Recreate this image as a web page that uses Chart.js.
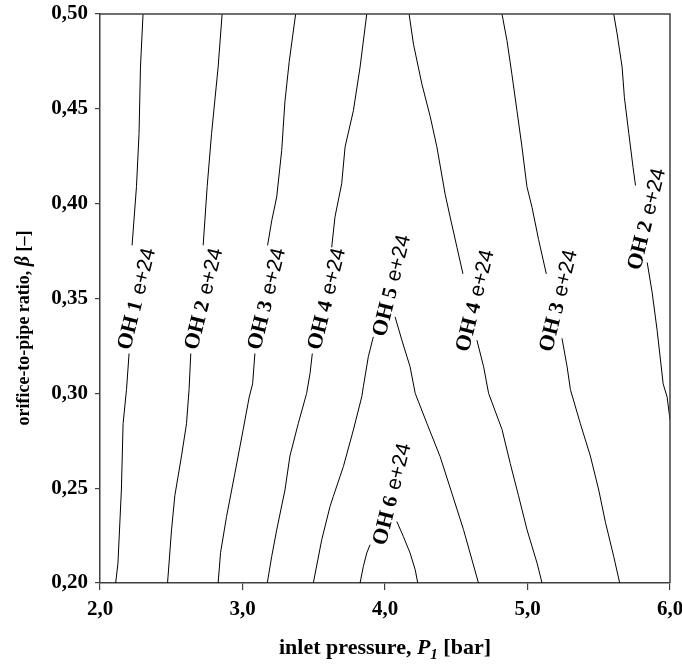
<!DOCTYPE html>
<html>
<head>
<meta charset="utf-8">
<script src="https://cdn.jsdelivr.net/npm/chart.js@4"></script>
<style>
  html, body { margin: 0; padding: 0; background: #fff; }
  canvas { display: block; }
</style>
</head>
<body>
<canvas id="ohChart" width="682" height="664"></canvas>
<script>
// contour lines: inlet pressure P1 [bar] / beta [-]
// null = break where the label sits
const oh1P = [2.302, 2.284, 2.274, 2.256, 2.225, null, 2.204, 2.186, 2.162, 2.150, 2.126, 2.110];
const oh1Beta = [0.500, 0.472, 0.437, 0.409, 0.378, null, 0.321, 0.302, 0.284, 0.249, 0.2105, 0.200];

const oh2aP = [2.857, 2.829, 2.783, 2.752, 2.724, null, 2.637, 2.625, 2.607, 2.572, 2.525, 2.502, 2.474];
const oh2aBeta = [0.500, 0.472, 0.437, 0.409, 0.378, null, 0.321, 0.302, 0.284, 0.267, 0.246, 0.228, 0.200];

const oh3aP = [3.373, 3.328, 3.298, 3.275, 3.240, 3.205, 3.176, null, 3.087, 3.071, 3.047, 3.005, 2.947, 2.888, 2.846, 2.829];
const oh3aBeta = [0.500, 0.475, 0.454, 0.428, 0.4035, 0.391, 0.378, null, 0.321, 0.305, 0.298, 0.281, 0.258, 0.235, 0.216, 0.200];

const oh4aP = [3.872, 3.825, 3.778, 3.720, 3.696, 3.649, 3.626, null, 3.490, 3.474, 3.450, 3.391, 3.333, 3.298, 3.240, 3.205, 3.174];
const oh4aBeta = [0.500, 0.472, 0.449, 0.430, 0.4105, 0.393, 0.377, null, 0.321, 0.3105, 0.300, 0.284, 0.267, 0.249, 0.228, 0.214, 0.200];

const oh5P = [3.497, 3.556, 3.614, 3.637, 3.708, 3.778, 3.837, 3.848, 3.883, 3.918, null, 4.071, 4.118, 4.176, 4.212, 4.294, 4.387, 4.469, 4.551, 4.656];
const oh5Beta = [0.200, 0.2228, 0.2403, 0.2456, 0.2614, 0.2807, 0.2982, 0.3035, 0.3193, 0.3298, null, 0.3403, 0.3281, 0.314, 0.300, 0.2842, 0.2666, 0.2474, 0.2281, 0.200];

const oh6P = [3.825, 3.848, 3.872, 3.895, null, 4.083, 4.129, 4.176, 4.212, 4.230];
const oh6Beta = [0.200, 0.2087, 0.2158, 0.2202, null, 0.2324, 0.2245, 0.2158, 0.207, 0.200];

const oh4bP = [4.169, 4.200, 4.259, 4.317, 4.364, 4.422, 4.457, 4.505, 4.547, null, 4.645, 4.692, 4.727, 4.821, 4.879, 4.937, 4.997, 5.067, 5.102];
const oh4bBeta = [0.500, 0.484, 0.463, 0.446, 0.430, 0.405, 0.393, 0.377, 0.363, null, 0.328, 0.314, 0.300, 0.281, 0.263, 0.246, 0.228, 0.2105, 0.200];

const oh3bP = [4.821, 4.856, 4.891, 4.926, 4.961, 4.996, 5.032, 5.078, 5.132, null, 5.242, 5.278, 5.301, 5.371, 5.441, 5.500, 5.547, 5.605, 5.647];
const oh3bBeta = [0.500, 0.486, 0.468, 0.449, 0.430, 0.409, 0.398, 0.381, 0.363, null, 0.329, 0.314, 0.302, 0.284, 0.267, 0.249, 0.232, 0.214, 0.200];

const oh2bP = [5.605, 5.629, 5.664, 5.680, 5.711, 5.741, 5.758, null, 5.840, 5.875, 5.910, 5.952, 5.980, 6.000];
const oh2bBeta = [0.500, 0.4895, 0.472, 0.456, 0.437, 0.419, 0.4096, null, 0.369, 0.353, 0.333, 0.305, 0.298, 0.286];

// contour labels "OH n e+24"
const labelLevels = ['1', '2', '3', '4', '5', '6', '4', '3', '2'];
const labelP = [2.249, 2.720, 3.162, 3.583, 4.039, 4.041, 4.624, 5.209, 5.828];
const labelBeta = [0.350, 0.350, 0.350, 0.350, 0.357, 0.247, 0.349, 0.349, 0.392];

const pressureRange = [2, 6];
const betaRange = [0.2, 0.5];

const SERIF = '"Liberation Serif", "Times New Roman", serif';
const SANS = '"Liberation Sans", Arial, sans-serif';

function toPoints(ps, bs) {
    return ps.map((p, i) => ({ x: p, y: bs[i] }));
}

function contour(ps, bs) {
    return {
        data: toPoints(ps, bs),
        showLine: true,
        borderColor: '#000',
        borderWidth: 1,
        pointRadius: 0,
        tension: 0,
        spanGaps: false
    };
}

// box round the plot area
const frame = {
    id: 'frame',
    afterDraw(chart) {
        const { ctx, chartArea: a } = chart;
        ctx.save();
        ctx.strokeStyle = '#404040';
        ctx.lineWidth = 1.5;
        ctx.beginPath();
        ctx.moveTo(a.left, a.top);
        ctx.lineTo(a.right, a.top);
        ctx.lineTo(a.right, a.bottom);
        ctx.stroke();
        ctx.restore();
    }
};

// rotated contour labels
const contourLabels = {
    id: 'contourLabels',
    afterDatasetsDraw(chart) {
        const { ctx, scales } = chart;
        const fOH = 'bold 22px ' + SERIF;
        const fNum = 'bold 21px ' + SERIF;
        const fExp = '21px ' + SANS;
        ctx.save();
        ctx.fillStyle = '#000';
        labelLevels.forEach((lvl, i) => {
            const px = scales.x.getPixelForValue(labelP[i]);
            const py = scales.y.getPixelForValue(labelBeta[i]);
            ctx.font = fOH; const w1 = ctx.measureText('OH').width;
            ctx.font = fNum; const w2 = ctx.measureText(lvl).width;
            ctx.font = fExp; const w3 = ctx.measureText('e+24').width;
            const g1 = 5, g2 = 7;
            const total = w1 + g1 + w2 + g2 + w3;
            ctx.save();
            ctx.translate(px, py);
            ctx.rotate(-76 * Math.PI / 180);
            ctx.textBaseline = 'alphabetic';
            ctx.textAlign = 'left';
            let x = -total / 2;
            const base = 7.5;
            ctx.font = fOH; ctx.fillText('OH', x, base); x += w1 + g1;
            ctx.font = fNum; ctx.fillText(lvl, x, base); x += w2 + g2;
            ctx.font = fExp; ctx.fillText('e+24', x, base);
            ctx.restore();
        });
        ctx.restore();
    }
};

// axis titles with mixed styles
const axisTitles = {
    id: 'axisTitles',
    afterDraw(chart) {
        const { ctx, chartArea: a } = chart;
        ctx.save();
        ctx.fillStyle = '#000';
        ctx.textBaseline = 'alphabetic';
        ctx.textAlign = 'left';

        // x title
        const xParts = [
            ['inlet pressure, ', 'bold 22px ' + SERIF, 0],
            ['P', 'italic bold 22px ' + SERIF, 0],
            ['1', 'italic bold 15px ' + SERIF, 5],
            [' [bar]', 'bold 22px ' + SERIF, 0]
        ];
        let tw = 0;
        xParts.forEach(p => { ctx.font = p[1]; p.push(ctx.measureText(p[0]).width); tw += p[3]; });
        let x = (a.left + a.right) / 2 - tw / 2;
        xParts.forEach(p => { ctx.font = p[1]; ctx.fillText(p[0], x, 654 + p[2]); x += p[3]; });

        // y title
        const yParts = [
            ['orifice-to-pipe ratio, ', 'bold 18px ' + SERIF],
            ['\u03b2', 'italic bold 20px ' + SERIF],
            [' [\u2013]', 'bold 18px ' + SERIF]
        ];
        tw = 0;
        yParts.forEach(p => { ctx.font = p[1]; p.push(ctx.measureText(p[0]).width); tw += p[2]; });
        ctx.translate(29, 328);
        ctx.rotate(-Math.PI / 2);
        x = -tw / 2;
        yParts.forEach(p => { ctx.font = p[1]; ctx.fillText(p[0], x, 0); x += p[2]; });
        ctx.restore();
    }
};

document.addEventListener('DOMContentLoaded', () => {
    const ctx = document.getElementById('ohChart').getContext('2d');
    new Chart(ctx, {
        type: 'scatter',
        data: {
            datasets: [
                contour(oh1P, oh1Beta),
                contour(oh2aP, oh2aBeta),
                contour(oh3aP, oh3aBeta),
                contour(oh4aP, oh4aBeta),
                contour(oh5P, oh5Beta),
                contour(oh6P, oh6Beta),
                contour(oh4bP, oh4bBeta),
                contour(oh3bP, oh3bBeta),
                contour(oh2bP, oh2bBeta)
            ]
        },
        options: {
            responsive: false,
            animation: false,
            devicePixelRatio: 1,
            layout: { padding: { top: 14, right: 12, left: 0, bottom: 0 } },
            plugins: { legend: { display: false }, tooltip: { enabled: false } },
            scales: {
                x: {
                    type: 'linear',
                    min: pressureRange[0],
                    max: pressureRange[1],
                    afterFit: s => { s.height = 81; s.paddingLeft = 0; s.paddingRight = 0; },
                    border: { display: true, color: '#404040', width: 1.5 },
                    grid: { drawOnChartArea: false, drawTicks: true, tickLength: 7, color: '#404040', lineWidth: 1.2 },
                    ticks: {
                        stepSize: 1,
                        padding: 7,
                        color: '#000',
                        maxRotation: 0,
                        font: { family: SERIF, size: 21, weight: 'bold' },
                        callback: v => v.toFixed(1).replace('.', ',')
                    }
                },
                y: {
                    type: 'linear',
                    min: betaRange[0],
                    max: betaRange[1],
                    afterFit: s => { s.width = 100; s.paddingTop = 0; s.paddingBottom = 0; },
                    border: { display: true, color: '#404040', width: 1.5 },
                    grid: { drawOnChartArea: false, drawTicks: true, tickLength: 5, color: '#404040', lineWidth: 1.2 },
                    ticks: {
                        stepSize: 0.05,
                        padding: 7,
                        color: '#000',
                        font: { family: SERIF, size: 21, weight: 'bold' },
                        callback: v => v.toFixed(2).replace('.', ',')
                    }
                }
            }
        },
        plugins: [frame, contourLabels, axisTitles]
    });
});
</script>
</body>
</html>
